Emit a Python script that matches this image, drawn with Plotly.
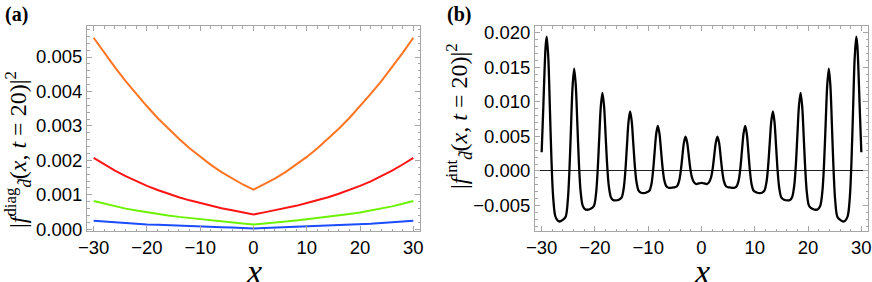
import plotly.graph_objects as go

# ---------- panel (a) data (values in units of 1e-3) ----------
xa = [-30, -28, -26, -24, -22, -20, -18, -16, -14, -12, -10, -8, -6, -4, -2, 0,
      2, 4, 6, 8, 10, 12, 14, 16, 18, 20, 22, 24, 26, 28, 30]
orange_vals = [5.56, 5.12, 4.70, 4.30, 3.93, 3.57, 3.23, 2.92, 2.63, 2.35, 2.10, 1.87, 1.66, 1.47, 1.30, 1.15,
               1.30, 1.47, 1.66, 1.87, 2.10, 2.35, 2.63, 2.92, 3.23, 3.57, 3.93, 4.30, 4.70, 5.12, 5.56]
red_vals = [2.07, 1.88, 1.70, 1.54, 1.39, 1.26, 1.14, 1.03, 0.93, 0.84, 0.76, 0.68, 0.61, 0.55, 0.49, 0.43,
            0.49, 0.55, 0.61, 0.68, 0.76, 0.84, 0.93, 1.03, 1.14, 1.26, 1.39, 1.54, 1.70, 1.88, 2.07]
green_vals = [0.82, 0.74, 0.665, 0.60, 0.545, 0.49, 0.445, 0.40, 0.36, 0.325, 0.29, 0.255, 0.22, 0.19, 0.165, 0.14,
              0.165, 0.19, 0.22, 0.255, 0.29, 0.325, 0.36, 0.40, 0.445, 0.49, 0.545, 0.60, 0.665, 0.74, 0.82]
blue_vals = [0.25, 0.225, 0.20, 0.18, 0.16, 0.14, 0.13, 0.115, 0.10, 0.09, 0.08, 0.07, 0.06, 0.05, 0.04, 0.025,
             0.04, 0.05, 0.06, 0.07, 0.08, 0.09, 0.10, 0.115, 0.13, 0.14, 0.16, 0.18, 0.20, 0.225, 0.25]

# ---------- panel (b) data (values in units of 1e-3) ----------
xb = [-30, -29.7, -29.45, -29.25, -29.05, -28.75, -28.45, -28.15, -27.85, -27.45, -27.0, -26.65, -26.1,
      -25.5, -25.1, -24.8, -24.5, -24.2, -23.9, -23.6, -23.3, -23.0, -22.7, -22.3, -21.9, -21.4, -20.8,
      -20.2, -19.8, -19.5, -19.2, -18.9, -18.6, -18.3, -18.0, -17.7, -17.4, -17.0, -16.6, -16.15, -15.5,
      -15.0, -14.6, -14.3, -14.0, -13.7, -13.4, -13.1, -12.8, -12.5, -12.2, -11.8, -11.35, -10.9, -10.35,
      -9.8, -9.4, -9.1, -8.8, -8.5, -8.2, -7.9, -7.6, -7.3, -7.0, -6.6, -6.2, -5.8, -5.2,
      -4.6, -4.2, -3.9, -3.6, -3.3, -3.0, -2.7, -2.4, -2.1, -1.8, -1.4, -1.0, -0.5, 0,
      0.5, 1.0, 1.4, 1.8, 2.1, 2.4, 2.7, 3.0, 3.3, 3.6, 3.9, 4.2, 4.6,
      5.2, 5.8, 6.2, 6.6, 7.0, 7.3, 7.6, 7.9, 8.2, 8.5, 8.8, 9.1, 9.4, 9.8,
      10.35, 10.9, 11.35, 11.8, 12.2, 12.5, 12.8, 13.1, 13.4, 13.7, 14.0, 14.3, 14.6, 15.0,
      15.5, 16.15, 16.6, 17.0, 17.4, 17.7, 18.0, 18.3, 18.6, 18.9, 19.2, 19.5, 19.8, 20.2,
      20.8, 21.4, 21.9, 22.3, 22.7, 23.0, 23.3, 23.6, 23.9, 24.2, 24.5, 24.8, 25.1, 25.5,
      26.1, 26.65, 27.0, 27.45, 27.85, 28.15, 28.45, 28.75, 29.05, 29.25, 29.45, 29.7, 30]
int_vals = [2.7, 9.0, 14.7, 18.1, 19.4, 16.3, 8.9, 1.4, -3.7, -6.5, -7.15, -7.3, -7.1,
            -6.6, -4.3, -0.1, 6.1, 12.2, 14.8, 12.4, 6.8, 1.0, -2.85, -5.0, -5.5, -5.6, -5.45,
            -5.05, -3.3, -0.1, 4.7, 9.3, 11.3, 9.5, 5.2, 0.8, -2.15, -3.8, -4.2, -4.25, -4.15,
            -3.85, -2.5, -0.1, 3.55, 7.1, 8.6, 7.2, 3.96, 0.64, -1.6, -2.85, -3.15, -3.2, -3.1,
            -2.85, -1.9, -0.05, 2.7, 5.36, 6.5, 5.45, 3.0, 0.45, -1.25, -2.2, -2.42, -2.45, -2.38,
            -2.2, -1.45, -0.05, 2.05, 4.1, 4.95, 4.15, 2.3, 0.35, -0.9, -1.65, -1.88, -1.8, -1.72,
            -1.8, -1.88, -1.65, -0.9, 0.35, 2.3, 4.15, 4.95, 4.1, 2.05, -0.05, -1.45, -2.2,
            -2.38, -2.45, -2.42, -2.2, -1.25, 0.45, 3.0, 5.45, 6.5, 5.36, 2.7, -0.05, -1.9, -2.85,
            -3.1, -3.2, -3.15, -2.85, -1.6, 0.64, 3.96, 7.2, 8.6, 7.1, 3.55, -0.1, -2.5, -3.85,
            -4.15, -4.25, -4.2, -3.8, -2.15, 0.8, 5.2, 9.5, 11.3, 9.3, 4.7, -0.1, -3.3, -5.05,
            -5.45, -5.6, -5.5, -5.0, -2.85, 1.0, 6.8, 12.4, 14.8, 12.2, 6.1, -0.1, -4.3, -6.6,
            -7.1, -7.3, -7.15, -6.5, -3.7, 1.4, 8.9, 16.3, 19.4, 18.1, 14.7, 9.0, 2.7]

x_ticks = [-30, -20, -10, 0, 10, 20, 30]
ya_ticks = [0.000, 0.001, 0.002, 0.003, 0.004, 0.005]
yb_ticks = [-0.005, 0.000, 0.005, 0.010, 0.015, 0.020]

colors_a = {"orange": "#FF7421", "red": "#FF1414", "green": "#6CF200", "blue": "#1C4CFF"}

fig = go.Figure()
for name, vals in [("blue", blue_vals), ("green", green_vals), ("red", red_vals), ("orange", orange_vals)]:
    fig.add_trace(go.Scatter(x=xa, y=[v * 1e-3 for v in vals], mode="lines",
                             line=dict(color=colors_a[name], width=2), xaxis="x", yaxis="y",
                             showlegend=False, hoverinfo="skip"))
fig.add_trace(go.Scatter(x=xb, y=[v * 1e-3 for v in int_vals], mode="lines",
                         line=dict(color="black", width=2.3, shape="spline", smoothing=0.9),
                         xaxis="x2", yaxis="y2", showlegend=False, hoverinfo="skip"))

W, H = 872, 282
frame_col = "#a6a6a6"
tick_font = dict(family="Liberation Sans, Arial, sans-serif", size=18.5, color="black")

def xax(domain, anchor):
    return dict(domain=domain, anchor=anchor, range=[-31.25, 31.25], tickvals=x_ticks,
                ticktext=[("\u2212" + str(-t)) if t < 0 else str(t) for t in x_ticks],
                ticks="inside", ticklen=5, tickwidth=1, tickcolor=frame_col,
                showline=True, linecolor=frame_col, linewidth=1, mirror="allticks",
                showgrid=False, zeroline=False, tickfont=tick_font,
                minor=dict(dtick=2, tick0=0, ticks="inside", ticklen=2.5, tickcolor=frame_col, showgrid=False),
                automargin=False)

def yax(domain, anchor, rng, tickvals, dminor, zero):
    return dict(domain=domain, anchor=anchor, range=rng, tickvals=tickvals,
                ticktext=[("\u2212" if t < 0 else "") + "%.3f" % abs(t) for t in tickvals],
                ticks="inside", ticklen=5, tickwidth=1, tickcolor=frame_col,
                showline=True, linecolor=frame_col, linewidth=1, mirror="allticks",
                showgrid=False, zeroline=zero, zerolinecolor="#222222", zerolinewidth=1,
                tickfont=tick_font,
                minor=dict(dtick=dminor, tick0=0, ticks="inside", ticklen=2.5, tickcolor=frame_col, showgrid=False),
                automargin=False)

ydom = [1 - 231 / H, 1 - 26 / H]
fig.update_layout(
    width=W, height=H, margin=dict(l=0, r=0, t=0, b=0),
    paper_bgcolor="white", plot_bgcolor="white",
    font=dict(color="black"),
    xaxis=xax([87 / W, 420 / W], "y"),
    yaxis=yax(ydom, "x", [-0.00005, 0.0059], ya_ticks, 0.0002, False),
    xaxis2=xax([535 / W, 868 / W], "y2"),
    yaxis2=yax(ydom, "x2", [-0.00867, 0.02095], yb_ticks, 0.001, True),
)

serif = "Liberation Serif, Times New Roman, serif"
sp = " "
ann = [
    dict(text="<b>(a)</b>", x=3 / W, y=1 - 1 / H, xanchor="left", yanchor="top", font=dict(family=serif, size=20, color="black")),
    dict(text="<b>(b)</b>", x=445 / W, y=1 - 1 / H, xanchor="left", yanchor="top", font=dict(family=serif, size=20, color="black")),
    dict(text="|<i>f</i><sup>diag</sup><sub><i>d\u0303</i></sub>(<i>x</i>," + sp + "<i>t</i>" + sp + "=" + sp + "20)|<sup>2</sup>",
         x=18 / W, y=1 - 150 / H, xanchor="center", yanchor="middle", textangle=-90,
         font=dict(family=serif, size=24, color="black")),
    dict(text="|<i>f</i><sup>int</sup><sub><i>d\u0303</i></sub>(<i>x</i>," + sp + "<i>t</i>" + sp + "=" + sp + "20)|<sup>2</sup>",
         x=459 / W, y=1 - 116 / H, xanchor="center", yanchor="middle", textangle=-90,
         font=dict(family=serif, size=24, color="black")),
    dict(text="<i>x</i>", x=254 / W, y=1 - 271 / H, xanchor="center", yanchor="middle",
         font=dict(family=serif, size=34, color="black")),
    dict(text="<i>x</i>", x=702 / W, y=1 - 271 / H, xanchor="center", yanchor="middle",
         font=dict(family=serif, size=34, color="black")),
]
for a in ann:
    a.update(xref="paper", yref="paper", showarrow=False)
fig.update_layout(annotations=ann)

fig.write_html("out.html", config={"displayModeBar": False},
               post_script="document.body.style.margin='0px';document.body.style.overflow='hidden';")
